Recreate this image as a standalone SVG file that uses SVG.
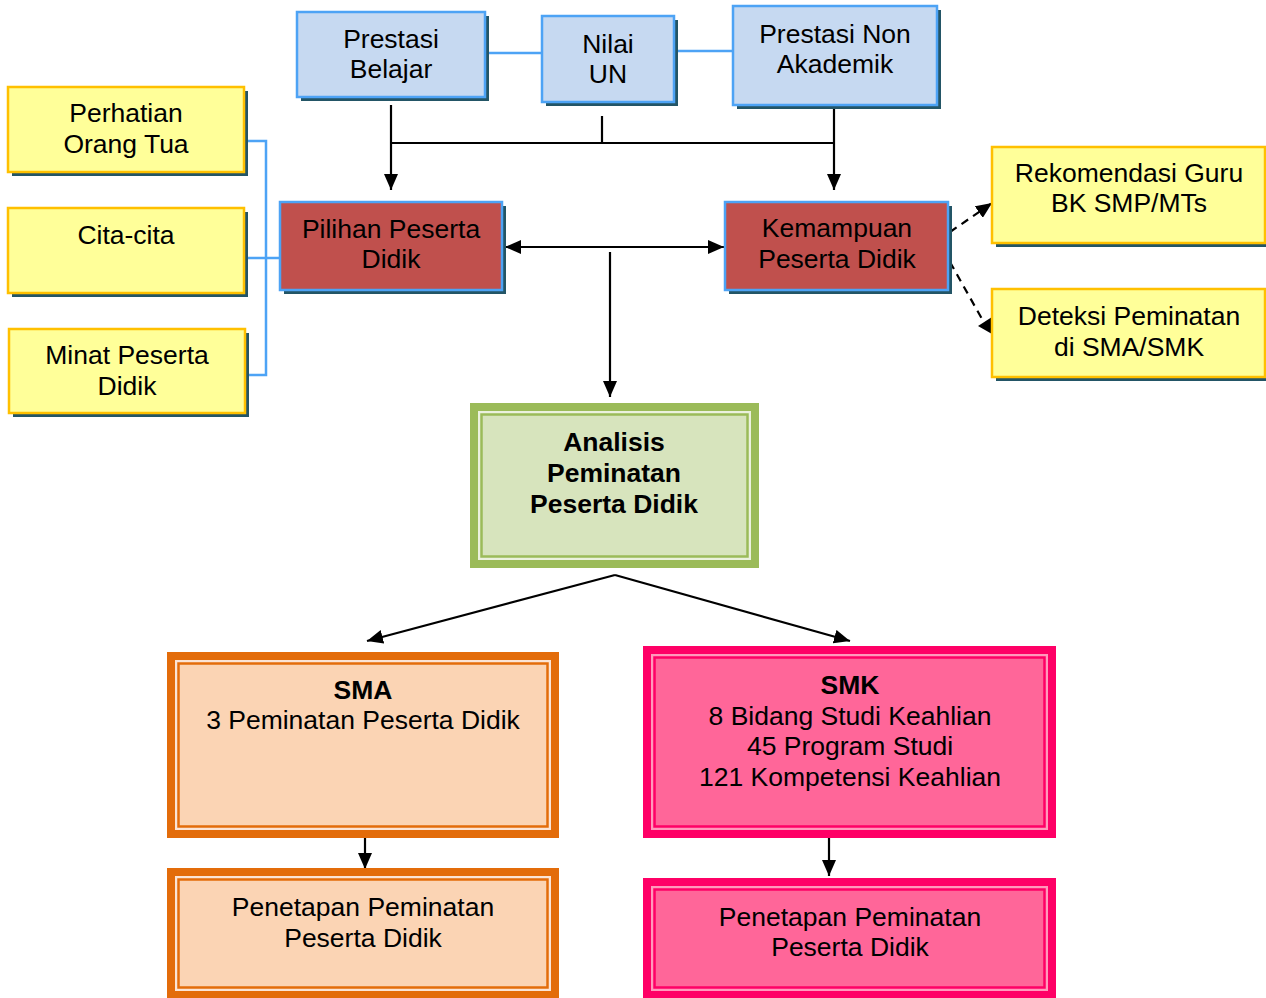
<svg xmlns="http://www.w3.org/2000/svg" width="1266" height="998" viewBox="0 0 1266 998">
<defs>
<style>
text{font-family:"Liberation Sans",Arial,sans-serif;font-size:26.5px;fill:#000;text-anchor:middle}
.b{font-weight:bold}
.sh{fill:#235566}
.blue{fill:#C6D9F1;stroke:#4DA3F5;stroke-width:2.5}
.red{fill:#C0504D;stroke:#4DA3F5;stroke-width:2.5}
.yel{fill:#FFFF99;stroke:#FFC000;stroke-width:2.5}
.ln{stroke:#000;stroke-width:2.2;fill:none}
.bl{stroke:#4DA3F5;stroke-width:2.5;fill:none}
.ds{stroke:#000;stroke-width:2.2;fill:none;stroke-dasharray:8,6}
</style>
<marker id="ah" markerUnits="userSpaceOnUse" markerWidth="16" markerHeight="14" refX="16" refY="7" orient="auto-start-reverse">
<path d="M0,0 L16,7 L0,14 z" fill="#000"/>
</marker>
</defs>
<rect width="1266" height="998" fill="#fff"/>

<g id="connectors">
<path class="bl" d="M478,53 H542"/>
<path class="bl" d="M667,51 H733"/>
<path class="bl" d="M246,141 H266 V375 H246"/>
<path class="bl" d="M248,258 H288"/>
<path class="ln" d="M391,105 V190" marker-end="url(#ah)"/>
<path class="ln" d="M391,143 H835"/>
<path class="ln" d="M602,116 V143"/>
<path class="ln" d="M834,107 V190" marker-end="url(#ah)"/>
<path class="ln" d="M505,247 H724" marker-start="url(#ah)" marker-end="url(#ah)"/>
<path class="ln" d="M610,252 V397" marker-end="url(#ah)"/>
<path class="ln" d="M615,575 L367,641" marker-end="url(#ah)"/>
<path class="ln" d="M615,575 L850,641" marker-end="url(#ah)"/>
<path class="ln" d="M365,831 V869" marker-end="url(#ah)"/>
<path class="ln" d="M829,835 V876" marker-end="url(#ah)"/>
<path class="ds" d="M950,232 L992,203" marker-end="url(#ah)"/>
<path class="ds" d="M950,262 L982,319"/>
<polygon points="992,317 992,334 978,326" fill="#000"/>
</g>

<g id="prestasi-belajar">
<rect class="sh" x="301" y="16" width="188" height="85"/>
<rect class="blue" x="297" y="12" width="188" height="85"/>
<text x="391" y="48">Prestasi</text>
<text x="391" y="78">Belajar</text>
</g>
<g id="nilai-un">
<rect class="sh" x="546" y="20" width="132" height="86"/>
<rect class="blue" x="542" y="16" width="132" height="86"/>
<text x="608" y="53">Nilai</text>
<text x="608" y="83">UN</text>
</g>
<g id="prestasi-non-akademik">
<rect class="sh" x="737" y="10" width="204" height="99"/>
<rect class="blue" x="733" y="6" width="204" height="99"/>
<text x="835" y="43">Prestasi Non</text>
<text x="835" y="73">Akademik</text>
</g>

<g id="perhatian-orang-tua">
<rect class="sh" x="12" y="91" width="236" height="85"/>
<rect class="yel" x="8" y="87" width="236" height="85"/>
<text x="126" y="122">Perhatian</text>
<text x="126" y="153">Orang Tua</text>
</g>
<g id="cita-cita">
<rect class="sh" x="12" y="212" width="236" height="85"/>
<rect class="yel" x="8" y="208" width="236" height="85"/>
<text x="126" y="244">Cita-cita</text>
</g>
<g id="minat-peserta-didik">
<rect class="sh" x="13" y="333" width="236" height="84"/>
<rect class="yel" x="9" y="329" width="236" height="84"/>
<text x="127" y="364">Minat Peserta</text>
<text x="127" y="395">Didik</text>
</g>

<g id="pilihan-peserta-didik">
<rect class="sh" x="284" y="206" width="222" height="88"/>
<rect class="red" x="280" y="202" width="222" height="88"/>
<text x="391" y="238">Pilihan Peserta</text>
<text x="391" y="268">Didik</text>
</g>
<g id="kemampuan-peserta-didik">
<rect class="sh" x="729" y="206" width="223" height="88"/>
<rect class="red" x="725" y="202" width="223" height="88"/>
<text x="837" y="237">Kemampuan</text>
<text x="837" y="268">Peserta Didik</text>
</g>

<g id="rekomendasi-guru">
<rect class="sh" x="996" y="151" width="273" height="96"/>
<rect class="yel" x="992" y="147" width="273" height="96"/>
<text x="1129" y="182">Rekomendasi Guru</text>
<text x="1129" y="212">BK SMP/MTs</text>
</g>
<g id="deteksi-peminatan">
<rect class="sh" x="996" y="293" width="273" height="88"/>
<rect class="yel" x="992" y="289" width="273" height="88"/>
<text x="1129" y="325">Deteksi Peminatan</text>
<text x="1129" y="356">di SMA/SMK</text>
</g>

<g id="analisis-peminatan">
<rect x="470" y="403" width="289" height="165" fill="#9BBB59"/>
<rect x="478" y="411" width="273" height="149" fill="#EBF1DE"/>
<rect x="481.5" y="414.5" width="266" height="142" fill="#D7E4BD" stroke="#9BBB59" stroke-width="2.5"/>
<text class="b" x="614" y="451">Analisis</text>
<text class="b" x="614" y="482">Peminatan</text>
<text class="b" x="614" y="513">Peserta Didik</text>
</g>

<g id="sma">
<rect x="167" y="652" width="392" height="186" fill="#E36C0A"/>
<rect x="175" y="660" width="376" height="170" fill="#FBE4D5"/>
<rect x="178.5" y="663.5" width="369" height="163" fill="#FBD4B4" stroke="#E36C0A" stroke-width="2.5"/>
<text class="b" x="363" y="699">SMA</text>
<text x="363" y="729">3 Peminatan Peserta Didik</text>
</g>
<g id="sma-penetapan">
<rect x="167" y="868" width="392" height="131" fill="#E36C0A"/>
<rect x="175" y="876" width="376" height="115" fill="#FBE4D5"/>
<rect x="178.5" y="879.5" width="369" height="108" fill="#FBD4B4" stroke="#E36C0A" stroke-width="2.5"/>
<text x="363" y="916">Penetapan Peminatan</text>
<text x="363" y="947">Peserta Didik</text>
</g>

<g id="smk">
<rect x="643" y="646" width="413" height="192" fill="#FF0066"/>
<rect x="651" y="654" width="397" height="176" fill="#FF99BB"/>
<rect x="654.5" y="657.5" width="390" height="169" fill="#FF6699" stroke="#FF0066" stroke-width="2.5"/>
<text class="b" x="850" y="694">SMK</text>
<text x="850" y="725">8 Bidang Studi Keahlian</text>
<text x="850" y="755">45 Program Studi</text>
<text x="850" y="786">121 Kompetensi Keahlian</text>
</g>
<g id="smk-penetapan">
<rect x="643" y="878" width="413" height="121" fill="#FF0066"/>
<rect x="651" y="886" width="397" height="105" fill="#FF99BB"/>
<rect x="654.5" y="889.5" width="390" height="98" fill="#FF6699" stroke="#FF0066" stroke-width="2.5"/>
<text x="850" y="926">Penetapan Peminatan</text>
<text x="850" y="956">Peserta Didik</text>
</g>
</svg>
